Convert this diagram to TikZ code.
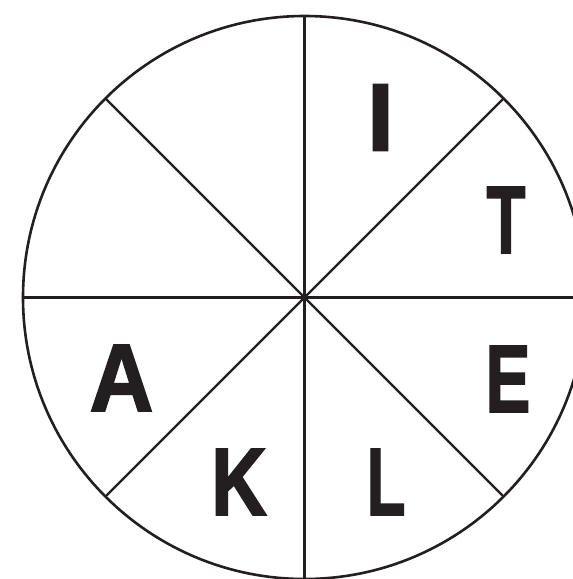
\documentclass[tikz,border=0pt]{standalone}
\usepackage{fontspec}
\usetikzlibrary{calc}
\newfontfamily\wheelfont[FakeBold=2]{Liberation Sans Bold}
\definecolor{Ink}{HTML}{231F20}
\newcommand{\wl}[2]{\scalebox{#1}[1]{#2}}
\tikzset{
    rim/.style={draw=Ink, line width=2.6pt},
    spoke/.style={draw=Ink, line width=2.4pt},
    letter/.style={inner sep=0pt, text=Ink, font=\wheelfont\fontsize{96}{96}\selectfont},
}
\begin{document}
\begin{tikzpicture}[x=1pt, y=-1pt]
    \useasboundingbox (0,0) rectangle (573,579);
    \coordinate (c) at (304.5,297.5);
    \draw[rim] (c) circle[radius=281.5];
    \foreach \a in {0,45,...,315} \coordinate (r\a) at ($(c)+(\a:281.5)$);
    \foreach \a in {0,45,...,315} \draw[spoke] (c) -- (r\a);

    \node[letter] (li) at (380.5,117.5) {\wl{1.0}{I}};
    \node[letter] (lt) at (506,220) {\wl{0.66}{T}};
    \node[letter] (le) at (508,379) {\wl{0.7}{E}};
    \node[letter] (ll) at (386,482) {\wl{0.66}{L}};
    \node[letter] (lk) at (239,482) {\wl{0.8}{K}};
    \node[letter] (la) at (121.5,378) {\wl{0.92}{A}};
\end{tikzpicture}
\end{document}
